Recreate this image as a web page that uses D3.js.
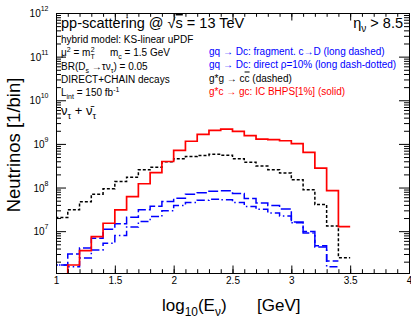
<!DOCTYPE html>
<html>
<head>
<meta charset="utf-8">
<script src="https://cdn.jsdelivr.net/npm/d3@7"></script>
<style>
body { margin: 0; background: #fff; }
text { font-family: "Liberation Sans", Arial, Helvetica, sans-serif; }
</style>
</head>
<body>
<div id="container"></div>
<script>
// lower edges of the log10(E) bins, width 0.1
let binLow = [1.0, 1.1, 1.2, 1.3, 1.4, 1.5, 1.6, 1.7, 1.8, 1.9, 2.0, 2.1, 2.2, 2.3, 2.4,
              2.5, 2.6, 2.7, 2.8, 2.9, 3.0, 3.1, 3.2, 3.3, 3.4];
let binWidth = 0.1;

// g*c -> gc: IC BHPS[1%] (solid, red); first bin empty
let icBHPS = [null, 1.68e6, 3.57e6, 7.5e6, 1.52e7, 3.08e7, 6.21e7, 1.22e8, 2.2e8, 3.95e8,
              7.08e8, 1.15e9, 1.65e9, 2.04e9, 2.19e9, 1.93e9, 1.54e9, 1.29e9, 1.25e9, 1.18e9,
              1.01e9, 6.37e8, 2.79e8, 8.5e7, 1.27e7];
// g*g -> c cbar (dashed, black)
let ggCC = [2.07e7, 3.08e7, 4.7e7, 7.05e7, 9.33e7, 1.37e8, 1.73e8, 2.55e8, 2.91e8, 3.89e8,
            4.56e8, 5.15e8, 5.43e8, 5.78e8, 5.49e8, 4.56e8, 3.79e8, 3.1e8, 2.55e8, 2.14e8,
            1.5e8, 8.85e7, 4.07e7, 1.32e7, 2.47e6];
// gq -> Dc: fragmentation (long dashed, blue), ends at 3.4
let fragDc = [1.68e6, 3.0e6, 4.12e6, 6.89e6, 1.11e7, 1.47e7, 2.09e7, 3.08e7, 3.74e7, 4.77e7,
              5.65e7, 7.05e7, 7.55e7, 8.26e7, 8.4e7, 7.28e7, 5.59e7, 4.45e7, 3.9e7, 3.24e7,
              1.63e7, 9.77e6, 4.66e6, 2.07e6];
// gq -> Dc: direct rho=10% (long dash-dotted, blue), ends at 3.4
let directDc = [1.68e6, 1.53e6, 2.43e6, 3.71e6, 5.29e6, 7.98e6, 1.25e7, 1.66e7, 2.16e7, 2.92e7,
                3.86e7, 4.53e7, 5.08e7, 5.42e7, 5.22e7, 4.53e7, 3.7e7, 3.16e7, 2.62e7, 2.24e7,
                1.55e7, 9.12e6, 4.35e6, 1.53e6];

let xTickLabels = [1, 1.5, 2, 2.5, 3, 3.5, 4];
let yDecades = [7, 8, 9, 10, 11, 12];

let legendLines = [
  "gq \u2192 Dc: fragment. c\u2192D (long dashed)",
  "gq \u2192 Dc: direct \u03C1=10% (long dash-dotted)",
  "g*g \u2192 c",
  "g*c \u2192 gc: IC BHPS[1%] (solid)"
];

let W = 411, H = 321;
let padL = 56, padR = 409, padT = 13, padB = 273;

let svg = d3.select("#container").append("svg")
  .attr("width", W).attr("height", H)
  .style("background-color", "white");

let x = d3.scaleLinear().domain([1, 4]).range([padL, padR]);
let y = d3.scaleLog().domain([1.1e6, 1e12]).range([padB, padT]);

svg.append("clipPath").attr("id", "frameclip")
  .append("rect").attr("x", padL).attr("y", padT)
  .attr("width", padR - padL).attr("height", padB - padT);

// histograms
function stepPoints(vals) {
  let pts = [];
  vals.forEach((v, i) => {
    if (v == null) return;
    if (pts.length == 0) pts.push([binLow[i], y.domain()[0]]);
    pts.push([binLow[i], v]);
  });
  let last = vals.length - 1;
  pts.push([binLow[last] + binWidth, vals[last]]);
  return pts;
}
let line = d3.line().x(d => x(d[0])).y(d => y(d[1])).curve(d3.curveStepAfter);

let series = [
  {vals: fragDc, color: "#0000ff", dash: "10,3", w: 1.5},
  {vals: directDc, color: "#0000ff", dash: "8,3,1.5,3", w: 1.5},
  {vals: ggCC, color: "#000000", dash: "3,2", w: 1.5},
  {vals: icBHPS, color: "#ff0000", dash: null, w: 1.7}
];
let plot = svg.append("g").attr("clip-path", "url(#frameclip)");
series.forEach(s => {
  plot.append("path")
    .attr("d", line(stepPoints(s.vals)))
    .attr("fill", "none")
    .attr("stroke", s.color)
    .attr("stroke-width", s.w)
    .attr("stroke-dasharray", s.dash);
});

// axes: ticks inside on all four sides
let xMinor = d3.range(1.1, 4, 0.1);
let yMinor = [];
for (let d = 6; d < 12; d++) {
  for (let k = 2; k <= 9; k++) {
    let v = k * Math.pow(10, d);
    if (v > 1.1e6) yMinor.push(v);
  }
}
let yMajor = yDecades.map(d => Math.pow(10, d));

function addAxis(axis, tr) {
  let g = svg.append("g").attr("transform", tr).call(axis);
  g.select(".domain").remove();
  g.selectAll("line").attr("stroke", "#000");
  return g;
}
addAxis(d3.axisBottom(x).tickValues(xMinor).tickSize(-3.8).tickFormat(""), "translate(0," + padB + ")");
addAxis(d3.axisTop(x).tickValues(xMinor).tickSize(-3.8).tickFormat(""), "translate(0," + padT + ")");
addAxis(d3.axisTop(x).tickValues(xTickLabels).tickSize(-7.5).tickFormat(""), "translate(0," + padT + ")");
let xg = addAxis(d3.axisBottom(x).tickValues(xTickLabels).tickSize(-7.5).tickPadding(3.5)
  .tickFormat(d3.format("")), "translate(0," + padB + ")");
xg.selectAll("text").attr("font-size", 10).attr("fill", "#000")
  .style("font-family", "'Liberation Sans', Arial, sans-serif");

addAxis(d3.axisLeft(y).tickValues(yMinor).tickSize(-5).tickFormat(""), "translate(" + padL + ",0)");
addAxis(d3.axisLeft(y).tickValues(yMajor).tickSize(-10).tickFormat(""), "translate(" + padL + ",0)");
addAxis(d3.axisRight(y).tickValues(yMinor).tickSize(-5).tickFormat(""), "translate(" + padR + ",0)");
addAxis(d3.axisRight(y).tickValues(yMajor).tickSize(-10).tickFormat(""), "translate(" + padR + ",0)");

svg.append("rect")
  .attr("x", padL + 0.5).attr("y", padT + 0.5)
  .attr("width", padR - padL).attr("height", padB - padT)
  .attr("fill", "none").attr("stroke", "#000").attr("stroke-width", 1);

// y tick labels 10^n
yDecades.forEach(d => {
  let t = svg.append("text")
    .attr("x", padL - 7.5).attr("y", y(Math.pow(10, d)) + 4)
    .attr("text-anchor", "end").attr("font-size", 10).attr("fill", "#000");
  t.append("tspan").text("10");
  t.append("tspan").text(d).attr("font-size", 7).attr("dy", -6);
});

// rich text helper: parts with optional sub / sup / overline
function richText(px, py, size, color, parts, anchor) {
  let t = svg.append("text").attr("x", px).attr("y", py)
    .attr("font-size", size).attr("fill", color)
    .attr("text-anchor", anchor || "start");
  let shift = 0;
  parts.forEach(p => {
    let target = p.s == "sub" ? size * 0.3 : p.s == "sup" ? -size * 0.42 : 0;
    let ts = t.append("tspan").text(p.t).attr("dy", target - shift);
    if (p.s) ts.attr("font-size", size * 0.7);
    if (p.dx) ts.attr("dx", p.dx);
    if (p.o) ts.style("text-decoration", "overline");
    shift = target;
  });
  return t;
}

richText(61, 28, 14.5, "#000", [{t: "pp-scattering @ \u221A"}, {t: "s", o: true}, {t: " = 13 TeV"}]);
richText(403, 28, 14.5, "#000", [{t: "\u03B7"}, {t: "\u03BD", s: "sub"}, {t: " > 8.5"}], "end");
richText(61, 43, 10, "#000", [{t: "hybrid model: KS-linear uPDF"}]);
richText(61, 56, 10, "#000", [{t: "\u03BC"}, {t: "2", s: "sup"}, {t: " = m"}, {t: "T", s: "sub"}, {t: "2", s: "sup", dx: -4}]);
richText(110, 56, 10, "#000", [{t: "m"}, {t: "c", s: "sub"}, {t: " = 1.5 GeV"}]);
richText(61, 69.5, 10, "#000", [{t: "BR(D"}, {t: "s", s: "sub"}, {t: " \u2192\u03C4\u03BD"}, {t: "\u03C4", s: "sub"}, {t: ") = 0.05"}]);
richText(61, 83, 10, "#000", [{t: "DIRECT+CHAIN decays"}]);
richText(61, 96, 10, "#000", [{t: "L"}, {t: "int", s: "sub"}, {t: " = 150 fb"}, {t: "-1", s: "sup"}]);
richText(61, 115, 13, "#000", [{t: "\u03BD"}, {t: "\u03C4", s: "sub"}, {t: " + \u03BD\u0304"}, {t: "\u03C4", s: "sub"}]);

richText(209, 55, 10, "#0000ff", [{t: legendLines[0]}]);
richText(209, 68, 10, "#0000ff", [{t: legendLines[1]}]);
richText(209, 81.5, 10, "#000", [{t: legendLines[2]}, {t: "c", o: true}, {t: " (dashed)"}]);
richText(209, 94.5, 10, "#ff0000", [{t: legendLines[3]}]);

// axis titles
richText(162, 311, 17, "#000", [{t: "log"}, {t: "10", s: "sub"}, {t: "(E"}, {t: "\u03BD", s: "sub"}, {t: ")"}]);
richText(257, 311, 17, "#000", [{t: "[GeV]"}]);

svg.append("text")
  .attr("transform", "translate(20,145) rotate(-90)")
  .attr("text-anchor", "middle")
  .attr("font-size", 18.5)
  .text("Neutrinos [1/bin]");
</script>
</body>
</html>
